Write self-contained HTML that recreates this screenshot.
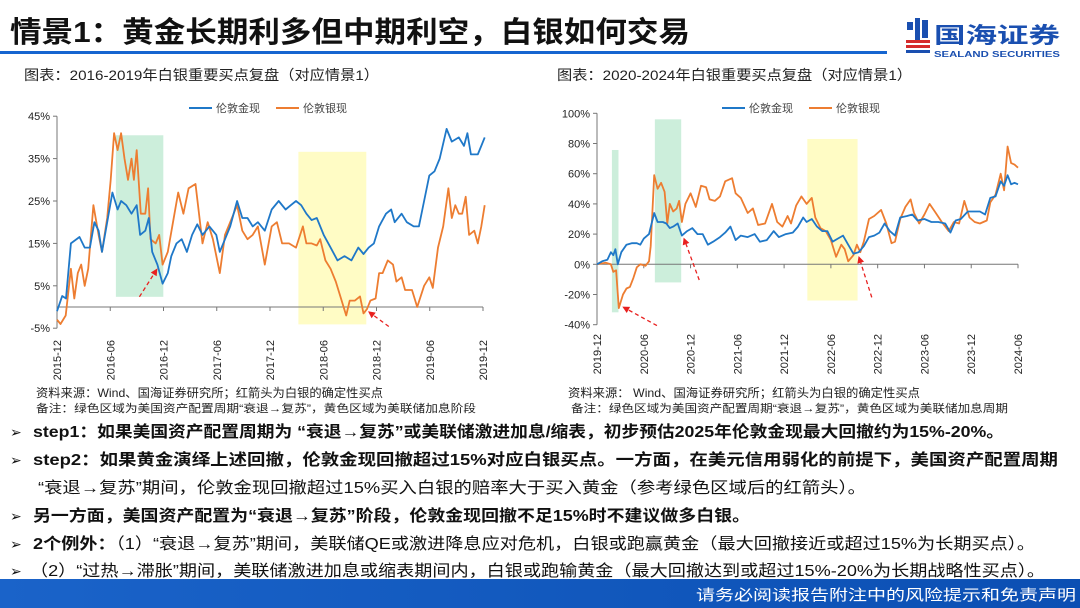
<!DOCTYPE html>
<html><head><meta charset="utf-8">
<style>
html,body{margin:0;padding:0;background:#fff;}
svg{display:block;font-family:"Liberation Sans","Noto Sans CJK SC",sans-serif;}
</style></head>
<body>
<svg id="page" width="1080" height="608" viewBox="0 0 1080 608">
<defs>
<linearGradient id="barg" x1="0" x2="1" y1="0" y2="0">
<stop offset="0" stop-color="#1a63c9"/><stop offset="1" stop-color="#0b4fb3"/>
</linearGradient>
</defs>
<text x="10" y="42" font-size="29" font-weight="bold" fill="#111" textLength="680" lengthAdjust="spacingAndGlyphs">情景1：黄金长期利多但中期利空，白银如何交易</text>
<rect x="0" y="51" width="887" height="3" fill="#1565d0"/>
<g>
<rect x="907" y="22" width="6" height="8" fill="#1a4fb0"/><rect x="915" y="18" width="5" height="22" fill="#1a4fb0"/><rect x="922" y="20" width="6" height="18" fill="#1a4fb0"/>
<rect x="906" y="40" width="24" height="3" fill="#d52b2b"/><rect x="906" y="45" width="24" height="3" fill="#d52b2b"/><rect x="906" y="50" width="24" height="3" fill="#1a4fb0"/>
<text x="934" y="43" font-size="22" font-weight="bold" fill="#1a4fb0" textLength="126" lengthAdjust="spacingAndGlyphs">国海证券</text>
<text x="934" y="57" font-size="8" font-weight="bold" fill="#1a4fb0" textLength="126" lengthAdjust="spacingAndGlyphs">SEALAND SECURITIES</text>
</g>
<text x="24" y="80" font-size="14" fill="#222" textLength="355" lengthAdjust="spacingAndGlyphs">图表：2016-2019年白银重要买点复盘（对应情景1）</text>
<text x="557" y="80" font-size="14" fill="#222" textLength="355" lengthAdjust="spacingAndGlyphs">图表：2020-2024年白银重要买点复盘（对应情景1）</text>
<g id="left-chart"></g>
<g id="right-chart"></g>
<text x="36" y="397" font-size="12" fill="#222" textLength="347" lengthAdjust="spacingAndGlyphs">资料来源：Wind、国海证券研究所；红箭头为白银的确定性买点</text>
<text x="36" y="412" font-size="11" fill="#222" textLength="440" lengthAdjust="spacingAndGlyphs">备注：绿色区域为美国资产配置周期“衰退→复苏”，黄色区域为美联储加息阶段</text>
<text x="568" y="397" font-size="12" fill="#222" textLength="352" lengthAdjust="spacingAndGlyphs">资料来源： Wind、国海证券研究所；红箭头为白银的确定性买点</text>
<text x="571" y="412" font-size="11" fill="#222" textLength="437" lengthAdjust="spacingAndGlyphs">备注：绿色区域为美国资产配置周期“衰退→复苏”，黄色区域为美联储加息周期</text>
<g font-size="16" fill="#111">
<text x="10" y="437" font-size="14">➢</text>
<text x="33" y="437" font-weight="bold" textLength="971" lengthAdjust="spacingAndGlyphs">step1：如果美国资产配置周期为 “衰退→复苏”或美联储激进加息/缩表，初步预估2025年伦敦金现最大回撤约为15%-20%。</text>
<text x="10" y="465" font-size="14">➢</text>
<text x="33" y="465" font-weight="bold" textLength="1025" lengthAdjust="spacingAndGlyphs">step2：如果黄金演绎上述回撤，伦敦金现回撤超过15%对应白银买点。一方面，在美元信用弱化的前提下，美国资产配置周期</text>
<text x="38" y="493" textLength="828" lengthAdjust="spacingAndGlyphs">“衰退→复苏”期间，伦敦金现回撤超过15%买入白银的赔率大于买入黄金（参考绿色区域后的红箭头）。</text>
<text x="10" y="521" font-size="14">➢</text>
<text x="33" y="521" font-weight="bold" textLength="717" lengthAdjust="spacingAndGlyphs">另一方面，美国资产配置为“衰退→复苏”阶段，伦敦金现回撤不足15%时不建议做多白银。</text>
<text x="10" y="549" font-size="14">➢</text>
<text x="33" y="549" textLength="1002" lengthAdjust="spacingAndGlyphs"><tspan font-weight="bold">2个例外：</tspan>（1）“衰退→复苏”期间，美联储QE或激进降息应对危机，白银或跑赢黄金（最大回撤接近或超过15%为长期买点）。</text>
<text x="10" y="576" font-size="14">➢</text>
<text x="30" y="576" textLength="1015" lengthAdjust="spacingAndGlyphs">（2）“过热→滞胀”期间，美联储激进加息或缩表期间内，白银或跑输黄金（最大回撤达到或超过15%-20%为长期战略性买点）。</text>
</g>
<rect x="0" y="579" width="1080" height="29" fill="url(#barg)"/>
<text x="696" y="600" font-size="15" fill="#fff" textLength="380" lengthAdjust="spacingAndGlyphs">请务必阅读报告附注中的风险提示和免责声明</text>
</svg>
<script>
// ---------- LEFT chart data (months since 2015-12 via zoom x, values %) ----------
const leftTicks = ["2015-12","2016-06","2016-12","2017-06","2017-12","2018-06","2018-12","2019-06","2019-12"];
const leftYTicks = [45,35,25,15,5,-5];
const leftGoldX = [170,185,196,210,235,250,265,278,290,300,315,330,345,355,370,385,400,410,425,435,445,460,475,490,500,515,530,545,560,575,590,610,630,640,655,670,690,705,720,735,750,770,790,810,830,845,860,875,890,905,920,940,960,980,1000,1020,1040,1055,1070,1085,1100,1120,1135,1145,1165,1180,1200,1215,1230,1245,1260,1275,1295,1310,1330,1345,1355,1365,1385,1395,1405];
const leftGold = [-1,2.6,2,15,16.5,14,14,20,18,13,20,27,23,25,24,22,24,17,18,21,13,10,5.5,8,12,15,16,13,17,19.5,17,19,17,13,16,19,25,21,21,19,20,18,23,25,23,24,25,24,22,20.5,21,17,14,11,12,11,14,12.5,14,15,19,22,23,20,22,20,19,19,25,31,32,35,42,39,40,38,41,36,36,38,40];
const leftSilverX = [170,180,195,210,220,230,240,250,260,275,290,300,315,325,335,345,355,365,375,385,392,400,412,425,433,440,455,465,475,490,505,520,535,550,570,580,590,605,620,640,655,670,690,705,720,735,750,770,790,805,820,840,860,880,890,905,920,930,945,960,975,990,1005,1015,1030,1045,1055,1065,1075,1090,1100,1110,1125,1140,1150,1165,1175,1195,1210,1230,1245,1255,1270,1285,1300,1310,1320,1330,1340,1350,1360,1375,1385,1395,1405];
const leftSilver = [-3,-4,-2,9,2,8,10,5,9,24,17,13,21,30,41,37,41,35,30,35,30,37,22,22,28,16,15,17,10,13,20,27,22,28,29,22,15,20,16,8,17,20,24,18,16,17,19,10,19,20,15,15,14,19,15,15,14.5,16,11,9,6,2,-2,1.5,1.5,2.5,-1.5,-0.5,1.5,2,8,8,11,10,6,7,4,4,0,5,7,4.5,14,19,28,21,24,22,22,26,17,18,15,19,24];
const leftZones = [{x0:340,x1:477,top:40.5,bot:2.4,c:"rgba(120,210,160,0.38)"},{x0:867,x1:1063,top:36.6,bot:-4.1,c:"rgba(255,250,150,0.55)"}];
const leftArrows = [[408,2.4,460,9.1],[1128,-4.6,1068,-1]];

// ---------- RIGHT chart data (months since 2019-12 via zoom x) ----------
const rightTicks = ["2019-12","2020-06","2020-12","2021-06","2021-12","2022-06","2022-12","2023-06","2023-12","2024-06"];
const rightYTicks = [100,80,60,40,20,0,-20,-40];
const rightGoldX = [165,180,195,205,212,218,225,235,250,265,280,290,300,315,330,340,355,365,375,385,398,410,425,440,455,470,485,500,520,535,550,565,580,600,620,635,655,675,690,710,730,745,760,770,785,800,815,830,845,860,875,890,905,920,935,950,965,980,995,1010,1025,1040,1060,1075,1090,1110,1130,1150,1170,1185,1200,1215,1235,1250,1270,1285,1300,1315,1330,1340,1350,1360,1370,1380];
const rightGold = [0,2,3,8,6,10,0,8,13,14,14,13,17,20,34,28,28,27,24,25,27,19,22,24,20,20,13,15,18,21,25,16,19,18,20,15,16,22,18,20,21,25,31,28,30,25,22,22,15,17,19,13,7,8,12,18,19,21,27,22,19,31,32,33,29,30,28,28,27,21,29,30,35,35,35,33,44,45,55,52,59,53,54,53];
const rightSilverX = [165,190,205,212,220,228,240,250,260,270,280,290,305,315,320,330,340,350,360,368,375,385,395,402,410,420,435,450,465,480,490,505,520,535,555,565,580,600,615,630,650,670,685,700,715,725,740,755,770,785,795,810,825,840,855,870,880,890,905,915,925,935,950,965,985,1000,1015,1025,1040,1055,1070,1080,1095,1110,1125,1140,1160,1180,1195,1210,1225,1240,1255,1270,1290,1300,1315,1330,1340,1350,1360,1370,1380];
const rightSilver = [0,1,0,-5,-4,-29,-20,-16,-15,-9,-2,0,-1,2,12,59,50,54,48,27,40,35,37,42,28,40,47,38,52,51,43,42,45,55,57,47,44,34,37,26,27,40,28,25,32,27,39,45,40,44,31,24,22,16,5,13,10,2,6,13,8,15,30,32,36,27,14,15,30,38,43,34,27,33,40,35,28,22,28,27,42,31,28,27,29,41,46,60,49,78,67,66,64];
const rightZones = [{x0:208,x1:227,top:75.7,bot:-31.8,c:"rgba(120,210,160,0.38)"},{x0:332,x1:408,top:96,bot:-12,c:"rgba(120,210,160,0.38)"},{x0:772,x1:917,top:83,bot:-24,c:"rgba(255,250,150,0.55)"}];
const rightArrows = [[338,-40.6,238,-28],[460,-10.4,415,17.7],[958,-21.9,920,5.5]];

const NS="http://www.w3.org/2000/svg";
function mk(tag,attrs,parent){const e=document.createElementNS(NS,tag);for(const k in attrs)e.setAttribute(k,attrs[k]);parent.appendChild(e);return e;}

function drawChart(g,cfg){
  const X=v=>cfg.ox+(v-cfg.zx0)/(cfg.zx1-cfg.zx0)*(cfg.ox1-cfg.ox);
  const Y=p=>cfg.zeroY-p*cfg.ppp;
  // zones
  cfg.zones.forEach(z=>{
    const r=mk("rect",{x:X(z.x0),y:Y(z.top),width:X(z.x1)-X(z.x0),height:Y(z.bot)-Y(z.top),fill:z.c},g);
    
    
  });
  // y axis
  const yTop=Y(cfg.yTicks[0]), yBot=Y(cfg.yTicks[cfg.yTicks.length-1]);
  const ya=mk("line",{x1:cfg.ox,y1:yTop,x2:cfg.ox,y2:yBot,stroke:"#777","stroke-width":1},g);
  
  
  cfg.yTicks.forEach(t=>{
    mk("line",{x1:cfg.ox-4,y1:Y(t),x2:cfg.ox,y2:Y(t),stroke:"#777"},g);
    const tx=mk("text",{x:cfg.ox-7,y:Y(t)+4,"font-size":11,"text-anchor":"end",fill:"#222"},g);
    tx.textContent=t+"%";
    
    
  });
  // x axis at zero
  const xa=mk("line",{x1:cfg.ox,y1:Y(0),x2:cfg.ox1,y2:Y(0),stroke:"#777","stroke-width":1},g);
  
  
  const n=cfg.ticks.length;
  cfg.ticks.forEach((t,i)=>{
    const x=cfg.ox+i*(cfg.ox1-cfg.ox)/(n-1);
    mk("line",{x1:x,y1:Y(0),x2:x,y2:Y(0)+4,stroke:"#777"},g);
    const tx=mk("text",{x:x+4,y:cfg.labelY,"font-size":11,"text-anchor":"end",fill:"#222",transform:`rotate(-90 ${x+4} ${cfg.labelY})`},g);
    tx.textContent=t;
    
    
  });
  // series
  [[cfg.sX,cfg.s,"#ed7d31","silver-line"],[cfg.gX,cfg.gd,"#1f78c8","gold-line"]].forEach(([xs,ys,col,nm])=>{
    const d=xs.map((x,i)=>(i?"L":"M")+X(x).toFixed(1)+","+Y(ys[i]).toFixed(1)).join("");
    const p=mk("path",{d:d,fill:"none",stroke:col,"stroke-width":1.8,"stroke-linejoin":"round"},g);
    
    
  });
  // arrows
  cfg.arrows.forEach(a=>{
    const x1=X(a[0]),y1=Y(a[1]),x2=X(a[2]),y2=Y(a[3]);
    const ang=Math.atan2(y2-y1,x2-x1);
    const bx=x2-7*Math.cos(ang),by=y2-7*Math.sin(ang);
    const ar=mk("g",{},g);
    
    
    mk("line",{x1:x1,y1:y1,x2:bx,y2:by,stroke:"#e8201f","stroke-width":1.3,"stroke-dasharray":"4,3"},ar);
    const px=-Math.sin(ang)*3.5,py=Math.cos(ang)*3.5;
    mk("polygon",{points:`${x2},${y2} ${bx+px},${by+py} ${bx-px},${by-py}`,fill:"#e8201f"},ar);
  });
  // legend
  const lg=mk("g",{},g);
  
  
  [[cfg.legX,"#1f78c8","伦敦金现"],[cfg.legX+87,"#ed7d31","伦敦银现"]].forEach(([x,c,t])=>{
    const e=mk("g",{},lg);
    
    
    mk("line",{x1:x,y1:cfg.legY,x2:x+23,y2:cfg.legY,stroke:c,"stroke-width":2},e);
    const tx=mk("text",{x:x+27,y:cfg.legY+4,"font-size":11,fill:"#444"},e);
    tx.textContent=t;
  });
}
drawChart(document.getElementById("left-chart"),{ox:57,ox1:483,zx0:170,zx1:1400,zeroY:307,ppp:4.24,ticks:leftTicks,yTicks:leftYTicks,labelY:340,gX:leftGoldX,gd:leftGold,sX:leftSilverX,s:leftSilver,zones:leftZones,arrows:leftArrows,legX:189,legY:108});
drawChart(document.getElementById("right-chart"),{ox:597,ox1:1018,zx0:165,zx1:1380,zeroY:264.3,ppp:1.51,ticks:rightTicks,yTicks:rightYTicks,labelY:334,gX:rightGoldX,gd:rightGold,sX:rightSilverX,s:rightSilver,zones:rightZones,arrows:rightArrows,legX:722,legY:108});
</script>
</body></html>
